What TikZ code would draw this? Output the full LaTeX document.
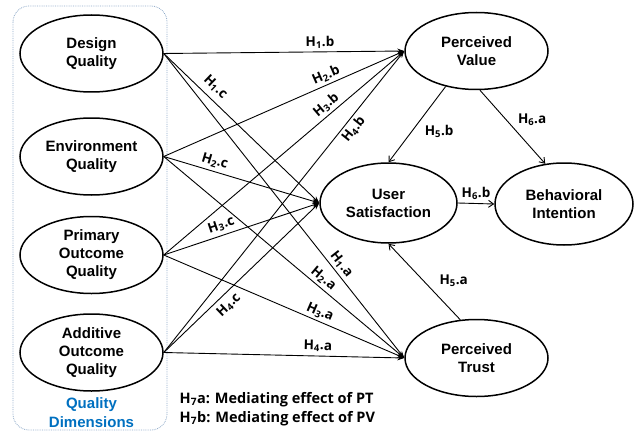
\documentclass[tikz,border=0pt]{standalone}
\usepackage{fontspec}
\setmainfont{Liberation Sans}
\newfontfamily\lblfont{Open Sans}
\usetikzlibrary{shapes.geometric,arrows.meta}
\definecolor{dimBlue}{HTML}{0070C0}
\definecolor{dimFrame}{HTML}{8EA9C8}
\newcommand{\hlab}[2]{H\textsubscript{#1}.#2}

\begin{document}
\begin{tikzpicture}[x=1pt, y=-1pt,
    construct/.style={draw, ellipse, line width=1.5pt, inner sep=0pt, align=center,
      font=\fontsize{15}{18}\selectfont\bfseries, minimum width=143pt, minimum height=77pt},
    hyp/.style={line width=0.9pt, -{Stealth[length=7pt,width=5pt]}},
    med/.style={line width=0.9pt, -{Straight Barb[length=5pt,width=7pt]}},
    lbl/.style={font=\lblfont\fontsize{13.5}{15}\selectfont\bfseries, inner sep=2.5pt}]
    \useasboundingbox (0,0) rectangle (636,433);
    % quality dimensions
    \draw[dimFrame, densely dotted, line width=0.8pt, rounded corners=16pt] (13,6) rectangle (167,430);
    \node[construct] (dq) at (91.5,53.5) {Design\\Quality};
    \node[construct] (eq) at (91.5,156.5) {Environment\\Quality};
    \node[construct] (pq) at (91.5,255) {Primary\\Outcome\\Quality};
    \node[construct] (aq) at (91.5,352.5) {Additive\\Outcome\\Quality};
    \node[text=dimBlue, align=center, font=\fontsize{15}{19}\selectfont\bfseries] (dimtitle) at (91.5,412.5) {Quality\\Dimensions};
    % outcomes
    \node[construct] (pv) at (476.5,51) {Perceived\\Value};
    \node[construct, minimum width=137pt, minimum height=80pt] (us) at (388.5,203) {User\\Satisfaction};
    \node[construct, minimum width=138pt, minimum height=82pt] (bi) at (564,204) {Behavioral\\Intention};
    \node[construct] (pt) at (476.5,358) {Perceived\\Trust};
    % to perceived value
    \draw[hyp] (dq.east) -- node[lbl, above, sloped, pos=.65] {\hlab{1}{b}} (pv.west);
    \draw[hyp] (eq.east) -- node[lbl, above, sloped, pos=.69] {\hlab{2}{b}} (pv.west);
    \draw[hyp] (pq.east) -- node[lbl, above, sloped, pos=.70] {\hlab{3}{b}} (pv.west);
    \draw[hyp] (aq.east) -- node[lbl, below, sloped, pos=.76] {\hlab{4}{b}} (pv.west);
    % to user satisfaction
    \draw[hyp] (dq.east) -- node[lbl, above=3pt, sloped, pos=.28] {\hlab{1}{c}} (us.west);
    \draw[hyp] (eq.east) -- node[lbl, above=1pt, sloped, pos=.31] {\hlab{2}{c}} (us.west);
    \draw[hyp] (pq.east) -- node[lbl, above=1pt, sloped, pos=.39] {\hlab{3}{c}} (us.west);
    \draw[hyp] (aq.east) -- node[lbl, below=2pt, sloped, pos=.37] {\hlab{4}{c}} (us.west);
    % to perceived trust
    \draw[hyp] (dq.east) -- node[lbl, above, sloped, pos=.71] {\hlab{1}{a}} (pt.west);
    \draw[hyp] (eq.east) -- node[lbl, above, sloped, pos=.64] {\hlab{2}{a}} (pt.west);
    \draw[hyp] (pq.east) -- node[lbl, above, sloped, pos=.635] {\hlab{3}{a}} (pt.west);
    \draw[hyp] (aq.east) -- node[lbl, above=1pt, sloped, pos=.64] {\hlab{4}{a}} (pt.west);
    % mediators
    \draw[med] (pv.229) -- node[lbl, right=10pt, pos=.59] {\hlab{5}{b}} (us.north);
    \draw[med] (pt.113) -- node[lbl, right=13pt, pos=.51] {\hlab{5}{a}} (us.south);
    \draw[med] (pv.275) -- node[lbl, right=9pt, pos=.4] {\hlab{6}{a}} (bi.115);
    \draw[med] (us.east) -- node[lbl, above=1pt] {\hlab{6}{b}} (bi.west);
    % legend
    \node[lbl, anchor=west, align=left, font=\lblfont\fontsize{14.5}{18.5}\selectfont\bfseries] (legend) at (177,409)
      {H\textsubscript{7}a: Mediating effect of PT\\H\textsubscript{7}b: Mediating effect of PV};
\end{tikzpicture}
\end{document}
